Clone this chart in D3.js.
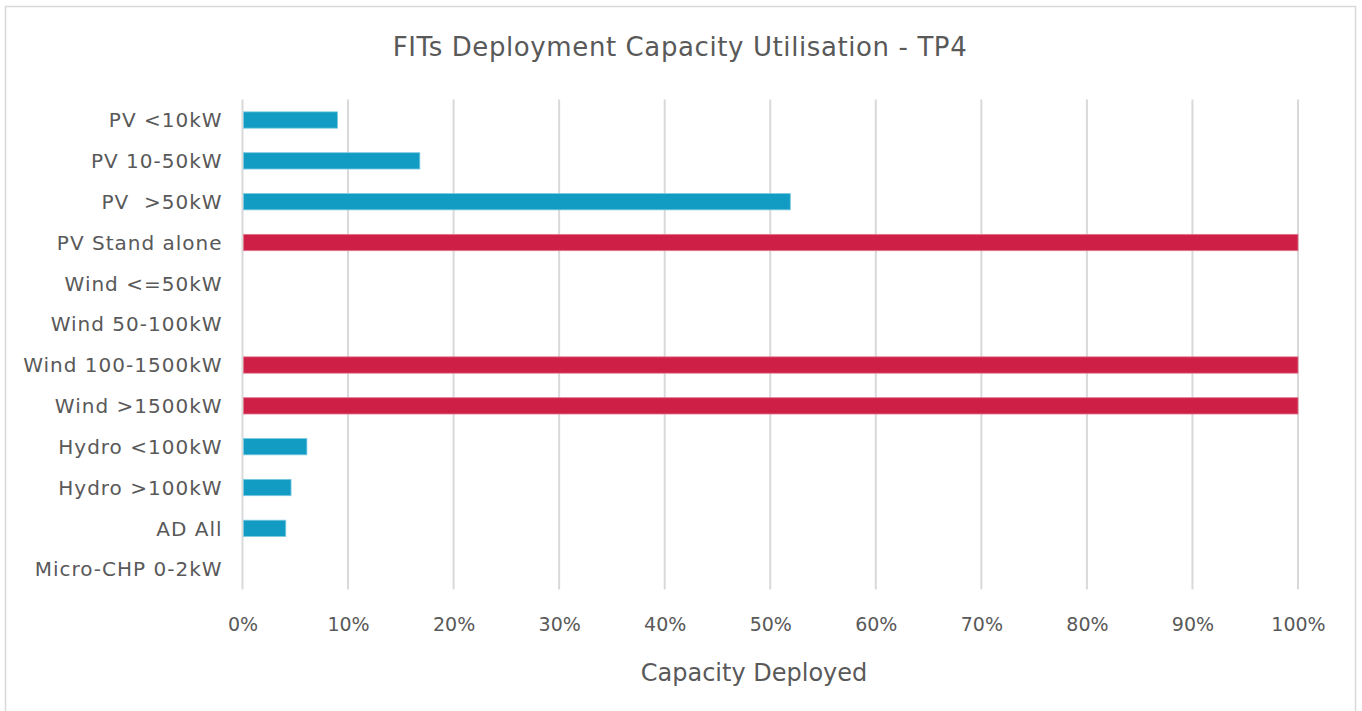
<!DOCTYPE html>
<html><head><meta charset="utf-8">
<script src="https://cdn.jsdelivr.net/npm/d3@7"></script>
<style>body{margin:0;background:#fff}svg{display:block}</style>
</head><body>
<script>
const categories = ["PV <10kW","PV 10-50kW","PV  >50kW","PV Stand alone","Wind <=50kW","Wind 50-100kW","Wind 100-1500kW","Wind >1500kW","Hydro <100kW","Hydro >100kW","AD All","Micro-CHP 0-2kW"];
const values = [0.09,0.168,0.519,1.0,0,0,1.0,1.0,0.061,0.046,0.041,0];
const capped = [false,false,false,true,false,false,true,true,false,false,false,false];
const xTicks = [0,0.1,0.2,0.3,0.4,0.5,0.6,0.7,0.8,0.9,1.0];
const title = "FITs Deployment Capacity Utilisation - TP4";
const xTitle = "Capacity Deployed";

const W=1362,H=711;
const font = "'DejaVu Sans', sans-serif";
const svg = d3.select("body").append("svg").attr("width",W).attr("height",H);
svg.append("rect").attr("x",5.5).attr("y",6.5).attr("width",1350).attr("height",720).attr("fill","#fff").attr("stroke","#d9d9d9").attr("stroke-width",1.5);

const x = d3.scaleLinear().domain([0,1]).range([242.5,1298]);
const y = d3.scaleBand().domain(categories).range([99.6,589.6]).paddingInner(0.6).paddingOuter(0.3);

svg.append("g").selectAll("line").data(xTicks).join("line")
  .attr("x1",d=>x(d)).attr("x2",d=>x(d)).attr("y1",99.6).attr("y2",589.6)
  .attr("stroke","#d9d9d9").attr("stroke-width",2);

svg.append("g").selectAll("rect").data(categories).join("rect")
  .attr("x",x(0)+1).attr("y",d=>y(d))
  .attr("width",(d,i)=>Math.max(0,x(values[i])-x(0)-1))
  .attr("height",y.bandwidth())
  .attr("fill",(d,i)=>capped[i]?"#CE1F47":"#139CC3")
  .attr("stroke",(d,i)=>capped[i]?"#e07a90":"#7ccbe2").attr("stroke-width",0.8)
  .attr("display",(d,i)=>values[i]>0?null:"none");

const xAxis = d3.axisBottom(x).tickValues(xTicks).tickFormat(d3.format(".0%")).tickSize(0).tickPadding(0);
const gx = svg.append("g").attr("transform","translate(0,630.5)").call(xAxis);
gx.select(".domain").remove();
gx.selectAll("text").attr("font-family",font).attr("font-size",19).attr("fill","#595959").attr("dy",0);

const yAxis = d3.axisLeft(y).tickSize(0).tickPadding(20);
const gy = svg.append("g").attr("transform",`translate(${x(0)},0)`).call(yAxis);
gy.select(".domain").remove();
gy.selectAll("text").attr("font-family",font).attr("font-size",20).attr("letter-spacing",1).attr("fill","#595959").attr("dy","0.36em").style("white-space","pre");

svg.append("text").attr("x",680).attr("y",55.5).attr("text-anchor","middle")
  .attr("font-family",font).attr("font-size",26).attr("letter-spacing",0.6).attr("fill","#595959").text(title);
svg.append("text").attr("x",754).attr("y",681).attr("text-anchor","middle")
  .attr("font-family",font).attr("font-size",24).attr("fill","#595959").text(xTitle);
</script>
</body></html>
